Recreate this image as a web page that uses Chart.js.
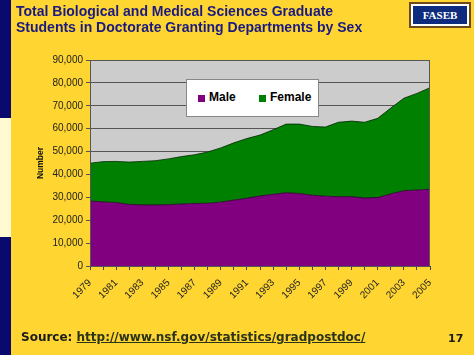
<!DOCTYPE html>
<html>
<head>
<meta charset="utf-8">
<script src="https://cdn.jsdelivr.net/npm/chart.js@4.4.0/dist/chart.umd.min.js"></script>
<style>
  html, body { margin:0; padding:0; }
  body { width:474px; height:355px; background:#FED531; position:relative; overflow:hidden; font-family:"Liberation Sans", Arial, sans-serif; }
  #bar1 { position:absolute; left:0; top:0; width:11px; height:118px; background:#0A0A6E; }
  #bar2 { position:absolute; left:0; top:118px; width:11px; height:119px; background:#FFFAD2; }
  #bar3 { position:absolute; left:0; top:237px; width:11px; height:118px; background:#0A0A6E; }
  #title { position:absolute; left:16px; top:3px; color:#1A1A80; font-weight:bold; font-size:14px; line-height:16px; }
  #logo { position:absolute; left:409px; top:2px; width:58px; height:22px; border:2px solid #6E4B1C; background:#FFFFFF; }
  #logoin { position:absolute; left:2px; top:2px; right:2px; bottom:2px; background:#0D2C7E; color:#fff; font-family:"Liberation Serif","Times New Roman",serif; font-weight:bold; font-size:11px; text-align:center; line-height:18px; }
  #chart { position:absolute; left:0; top:0; }
  #legend { position:absolute; left:186px; top:79px; width:133px; height:38px; background:#fff; border:1px solid #888; box-sizing:border-box; font-weight:bold; font-size:12px; color:#000; }
  .sw { position:absolute; width:7px; height:7px; top:15px; }
  .lt { position:absolute; top:10px; line-height:14px; }
  #source { position:absolute; left:21px; top:330px; font-family:"DejaVu Sans", Verdana, sans-serif; font-weight:bold; font-size:12px; color:#1a1a1a; }
  #source a { color:#2B3318; text-decoration:underline; }
  #page { position:absolute; left:448px; top:332px; font-family:"DejaVu Sans", Verdana, sans-serif; font-weight:bold; font-size:11px; color:#1a1a1a; }
</style>
</head>
<body>
<div id="bar1"></div><div id="bar2"></div><div id="bar3"></div>
<canvas id="chart" width="474" height="355"></canvas>
<div id="title">Total Biological and Medical Sciences Graduate<br>Students in Doctorate Granting Departments by Sex</div>
<div id="logo"><div id="logoin">FASEB</div></div>
<div id="legend">
  <div class="sw" style="left:11px;background:#800080;"></div><div class="lt" style="left:22px;">Male</div>
  <div class="sw" style="left:72px;background:#008000;"></div><div class="lt" style="left:83px;">Female</div>
</div>
<div id="source">Source: <a>http://www.nsf.gov/statistics/gradpostdoc/</a></div>
<div id="page">17</div>
<script>
const years = ['1979','1980','1981','1982','1983','1984','1985','1986','1987','1988','1989','1990','1991','1992','1993','1994','1995','1996','1997','1998','1999','2000','2001','2002','2003','2004','2005'];
const male = [28400,28000,27700,26900,26700,26700,26800,27100,27300,27400,27900,28800,29600,30600,31300,32000,31700,30900,30500,30300,30300,29700,29900,31500,32900,33200,33500];
const total = [44900,45600,45700,45400,45700,46000,46800,47800,48600,49800,51600,53800,55700,57200,59500,62000,62000,61000,60700,62800,63300,62800,64500,69000,73300,75400,77900];
const female = total.map((t, i) => t - male[i]);
const yTicks = [0,10000,20000,30000,40000,50000,60000,70000,80000,90000];

const plotBg = {
  id: 'plotBg',
  beforeDraw(chart) {
    const a = chart.chartArea, c = chart.ctx;
    c.save();
    c.fillStyle = '#CCCCCC';
    c.fillRect(a.left, a.top, a.right - a.left, a.bottom - a.top);
    c.restore();
  },
  afterDraw(chart) {
    const a = chart.chartArea, c = chart.ctx;
    c.save();
    c.strokeStyle = '#555';
    c.lineWidth = 1;
    c.strokeRect(a.left + 0.5, a.top + 0.5, a.right - a.left - 1, a.bottom - a.top);
    c.restore();
  }
};

new Chart(document.getElementById('chart'), {
  type: 'line',
  data: {
    labels: years,
    datasets: [
      { label: 'Male', data: male, backgroundColor: '#800080', borderColor: 'rgba(40,0,40,0.8)', borderWidth: 1, fill: 'origin', pointRadius: 0, tension: 0 },
      { label: 'Female', data: female, backgroundColor: '#008000', borderColor: 'rgba(0,40,0,0.8)', borderWidth: 1, fill: '-1', pointRadius: 0, tension: 0 }
    ]
  },
  options: {
    responsive: false,
    animation: false,
    devicePixelRatio: 1,
    layout: { padding: { left: 28, right: 44, top: 60, bottom: 0 } },
    plugins: { legend: { display: false }, tooltip: { enabled: false } },
    scales: {
      x: {
        offset: false,
        grid: { display: true, drawOnChartArea: false, drawTicks: true, tickLength: 4, color: '#444', offset: false },
        border: { color: '#444' },
        ticks: {
          autoSkip: false, maxRotation: 45, minRotation: 45, padding: 7,
          color: '#222', font: { family: 'Liberation Sans', size: 10 },
          callback: function(v, i) { return i % 2 === 0 ? years[i] : ''; }
        },
        afterFit: s => { s.height = 89; }
      },
      y: {
        stacked: true,
        min: 0, max: 90000,
        afterBuildTicks: s => { s.ticks = yTicks.map(v => ({ value: v })); },
        grid: { color: '#555', tickLength: 4, drawTicks: true },
        border: { color: '#444' },
        ticks: { padding: 3, color: '#222', font: { family: 'Liberation Sans', size: 10 },
          callback: v => v.toLocaleString('en-US') },
        title: { display: true, text: 'Number', color: '#111', font: { family: 'Liberation Sans', size: 8.5, weight: 'bold' }, padding: { top: 8, bottom: 0 } },
        afterFit: s => { s.width = 62; }
      }
    }
  },
  plugins: [plotBg]
});
</script>
</body>
</html>
